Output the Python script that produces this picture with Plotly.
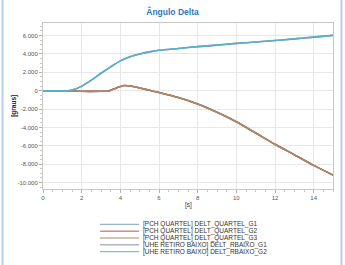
import plotly.graph_objects as go

# ---- data ----
t_up = [0, 1.0, 1.3, 1.6, 2, 2.5, 3, 3.5, 4, 4.5, 5, 5.5, 6, 7, 8, 9, 10, 11, 12, 13, 14, 15]
v_up = [0, 0, 0, 120, 500, 1150, 1900, 2600, 3250, 3700, 4000, 4230, 4400, 4600, 4800, 4960,
        5150, 5300, 5470, 5640, 5830, 6020]

t_down = [0, 1.0, 1.3, 2, 3, 3.4, 3.8, 4.2, 4.6, 5, 5.5, 6, 7, 8, 9, 10, 11, 12, 13, 14, 15]
v_down = [0, 0, 0, -60, -60, -40, 300, 560, 480, 300, 50, -200, -750, -1450, -2350, -3380,
          -4600, -5830, -6970, -8130, -9180]

series_names = [
    "[PCH QUARTEL] DELT_QUARTEL_G1",
    "[PCH QUARTEL] DELT_QUARTEL_G2",
    "[PCH QUARTEL] DELT_QUARTEL_G3",
    "[UHE RETIRO BAIXO] DELT_RBAIXO_G1",
    "[UHE RETIRO BAIXO] DELT_RBAIXO_G2",
]
series_x = [t_down, t_down, t_down, t_up, t_up]
series_y = [v_down, v_down, v_down, v_up, v_up]

x_tick_vals = [0, 2, 4, 6, 8, 10, 12, 14]
y_tick_vals = [6000, 4000, 2000, 0, -2000, -4000, -6000, -8000, -10000]
y_tick_labels = ["6.000", "4.000", "2.000", "0", "-2.000", "-4.000", "-6.000", "-8.000", "-10.000"]

title_text = "Ângulo Delta"
x_title = "[s]"
y_title = "[graus]"

# ---- styles ----
colors = ["#7f9fc8", "#c0504d", "#a88a64", "#8c8cae", "#56b0c8"]
W, H = 345, 265
ML, MR, MT, MB = 43, 12, 23, 76
PW, PH = W - ML - MR, H - MT - MB


def px_x(px):
    return (px - ML) / PW


def px_y(py):
    return (H - MB - py) / PH


font_family = "Liberation Sans, Arial, sans-serif"

fig = go.Figure()
for name, xs, ys, c in zip(series_names, series_x, series_y, colors):
    fig.add_trace(go.Scatter(x=xs, y=ys, mode="lines", name=name,
                             line=dict(color=c, width=1.6, shape="spline", smoothing=0.6),
                             showlegend=False))

shapes = []
annotations = []

# outer light-blue frame edges
for px in (2.5, 341.5):
    shapes.append(dict(type="line", xref="paper", yref="paper",
                       x0=px_x(px), x1=px_x(px), y0=px_y(0), y1=px_y(H),
                       line=dict(color="#b4d0ec", width=2)))

# custom compact legend
row0, step = 224.3, 6.85
for i, (name, c) in enumerate(zip(series_names, colors)):
    yy = px_y(row0 + i * step)
    shapes.append(dict(type="line", xref="paper", yref="paper",
                       x0=px_x(100), x1=px_x(139), y0=yy, y1=yy,
                       line=dict(color=c, width=1)))
    annotations.append(dict(xref="paper", yref="paper", x=px_x(142), y=yy,
                            xanchor="left", yanchor="middle", showarrow=False,
                            borderpad=0,
                            text=name, font=dict(family=font_family, size=6.5, color="#333333")))

# axis titles
annotations.append(dict(xref="paper", yref="paper", x=px_x(188), y=px_y(204.5),
                        xanchor="center", yanchor="middle", showarrow=False, text=x_title,
                        font=dict(family=font_family, size=6.5, color="#333333")))
annotations.append(dict(xref="paper", yref="paper", x=px_x(13.3), y=px_y(105.5),
                        xanchor="center", yanchor="middle", showarrow=False, text="<b>" + y_title + "</b>",
                        textangle=-90,
                        font=dict(family=font_family, size=6.5, color="#222222")))

fig.update_layout(
    width=W, height=H,
    margin=dict(l=ML, r=MR, t=MT, b=MB, pad=0),
    paper_bgcolor="white", plot_bgcolor="white",
    title=dict(text="<b>" + title_text + "</b>", x=0.5, xanchor="center",
               y=1 - 12.5 / H, yanchor="middle",
               font=dict(family=font_family, size=8.5, color="#2a78bf")),
    shapes=shapes, annotations=annotations,
    showlegend=False,
)

axis_common = dict(
    showline=True, linecolor="#c8c8c8", linewidth=1, mirror=True,
    showgrid=True, gridcolor="#e8e8e8", gridwidth=1,
    zeroline=False,
    ticks="outside", ticklen=3, tickcolor="#b0b0b0",
    tickfont=dict(family=font_family, size=6, color="#555555"),
)
fig.update_xaxes(range=[0, 15], tickvals=x_tick_vals,
                 minor=dict(dtick=0.5, ticks="outside", ticklen=2, tickcolor="#c8c8c8", showgrid=False),
                 **axis_common)
fig.update_yaxes(range=[-10700, 7370], tickvals=y_tick_vals, ticktext=y_tick_labels,
                 minor=dict(dtick=500, ticks="outside", ticklen=2, tickcolor="#c8c8c8", showgrid=False),
                 **axis_common)

fig.write_html("out.html")
